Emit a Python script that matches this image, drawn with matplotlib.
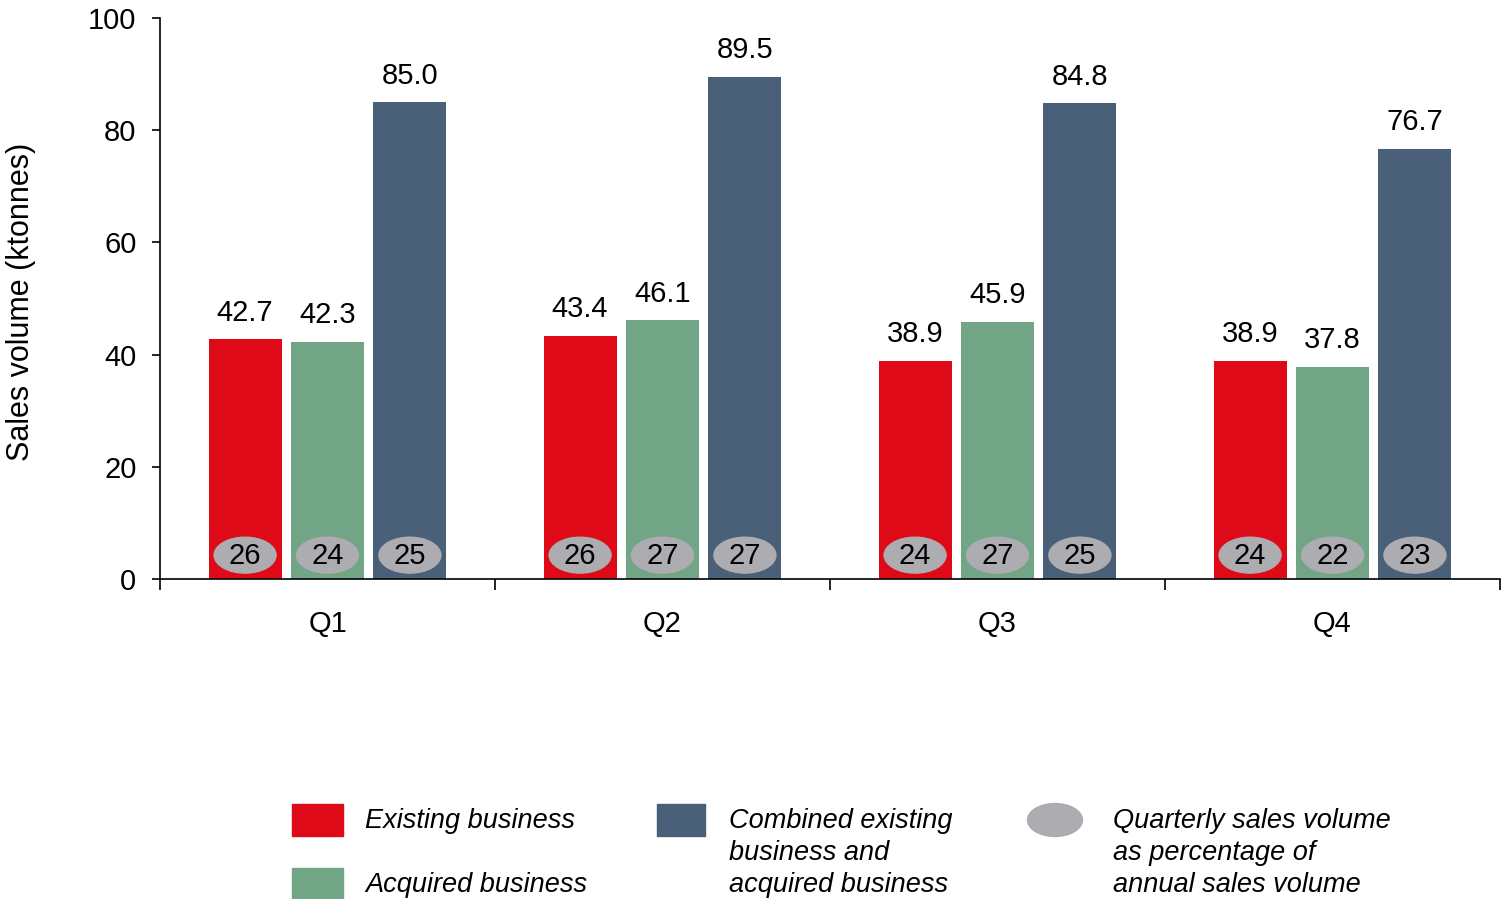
import numpy as np
import matplotlib.pyplot as plt
from matplotlib.patches import Ellipse, Rectangle

plt.rcParams['font.family'] = ['Liberation Sans', 'DejaVu Sans']

quarters = ['Q1', 'Q2', 'Q3', 'Q4']
existing = [42.7, 43.4, 38.9, 38.9]
acquired = [42.3, 46.1, 45.9, 37.8]
combined = [85.0, 89.5, 84.8, 76.7]
pct_existing = [26, 26, 24, 24]
pct_acquired = [24, 27, 27, 22]
pct_combined = [25, 27, 25, 23]

RED = '#df0a17'
GREEN = '#72a586'
BLUE = '#4a6079'
GREY = '#adacb1'

W, H = 1503, 899
fig = plt.figure(figsize=(W / 100, H / 100), dpi=100)
ax = fig.add_axes([160 / W, 1 - 579 / H, (1500 - 160) / W, (579 - 18) / H])

x = np.arange(len(quarters)) + 0.5
width = 0.218
offset = 0.246
series = [(existing, pct_existing, RED, -offset),
          (acquired, pct_acquired, GREEN, 0.0),
          (combined, pct_combined, BLUE, offset)]

for vals, pcts, col, off in series:
    bars = ax.bar(x + off, vals, width, color=col, zorder=2)
    for b, v, p in zip(bars, vals, pcts):
        cx = b.get_x() + b.get_width() / 2
        ax.annotate(f'{v:.1f}', (cx, v), xytext=(0, 9), textcoords='offset points',
                    ha='center', va='bottom', fontsize=21)
        ax.add_patch(Ellipse((cx, 4.25), 0.185, 6.4, color=GREY, zorder=3))
        ax.text(cx, 4.1, str(p), ha='center', va='center', fontsize=21, zorder=4)

ax.set_xlim(0, 4)
ax.set_ylim(0, 100)
ax.set_yticks([0, 20, 40, 60, 80, 100])
ax.tick_params(axis='y', labelsize=21, length=6, width=1.2, direction='out', pad=11)
ax.set_xticks([0, 1, 2, 3, 4])
ax.set_xticklabels([])
ax.set_xticks(x, minor=True)
ax.set_xticklabels(quarters, minor=True, fontsize=21)
ax.tick_params(axis='x', which='major', length=8, width=1.2, direction='out')
ax.tick_params(axis='x', which='minor', length=0, pad=22)
for s in ['top', 'right']:
    ax.spines[s].set_visible(False)
ax.spines['left'].set_linewidth(1.2)
ax.spines['bottom'].set_linewidth(1.2)
ax.set_ylabel('Sales volume (ktonnes)', fontsize=22)
ax.yaxis.set_label_coords(-0.0925, 0.494)

# legend drawn by hand in figure pixels
def fx(px):
    return px / W

def fy(py):
    return 1 - py / H

for col, y0 in [(RED, 804), (GREEN, 868)]:
    fig.add_artist(Rectangle((fx(292), fy(y0 + 32)), fx(343) - fx(292), 32 / H,
                             color=col, transform=fig.transFigure))
fig.add_artist(Rectangle((fx(657), fy(836)), fx(705) - fx(657), 32 / H,
                         color=BLUE, transform=fig.transFigure))
fig.add_artist(Ellipse((fx(1055), fy(820)), 55 / W, 33 / H, color=GREY,
                       transform=fig.transFigure))

lkw = dict(fontsize=19.5, style='italic', va='center', ha='left')
fig.text(fx(365), fy(821), 'Existing business', **lkw)
fig.text(fx(365), fy(885), 'Acquired business', **lkw)
fig.text(fx(729), fy(821), 'Combined existing', **lkw)
fig.text(fx(729), fy(853), 'business and', **lkw)
fig.text(fx(729), fy(885), 'acquired business', **lkw)
fig.text(fx(1113), fy(821), 'Quarterly sales volume', **lkw)
fig.text(fx(1113), fy(853), 'as percentage of', **lkw)
fig.text(fx(1113), fy(885), 'annual sales volume', **lkw)

fig.savefig('out.png', dpi=100)
